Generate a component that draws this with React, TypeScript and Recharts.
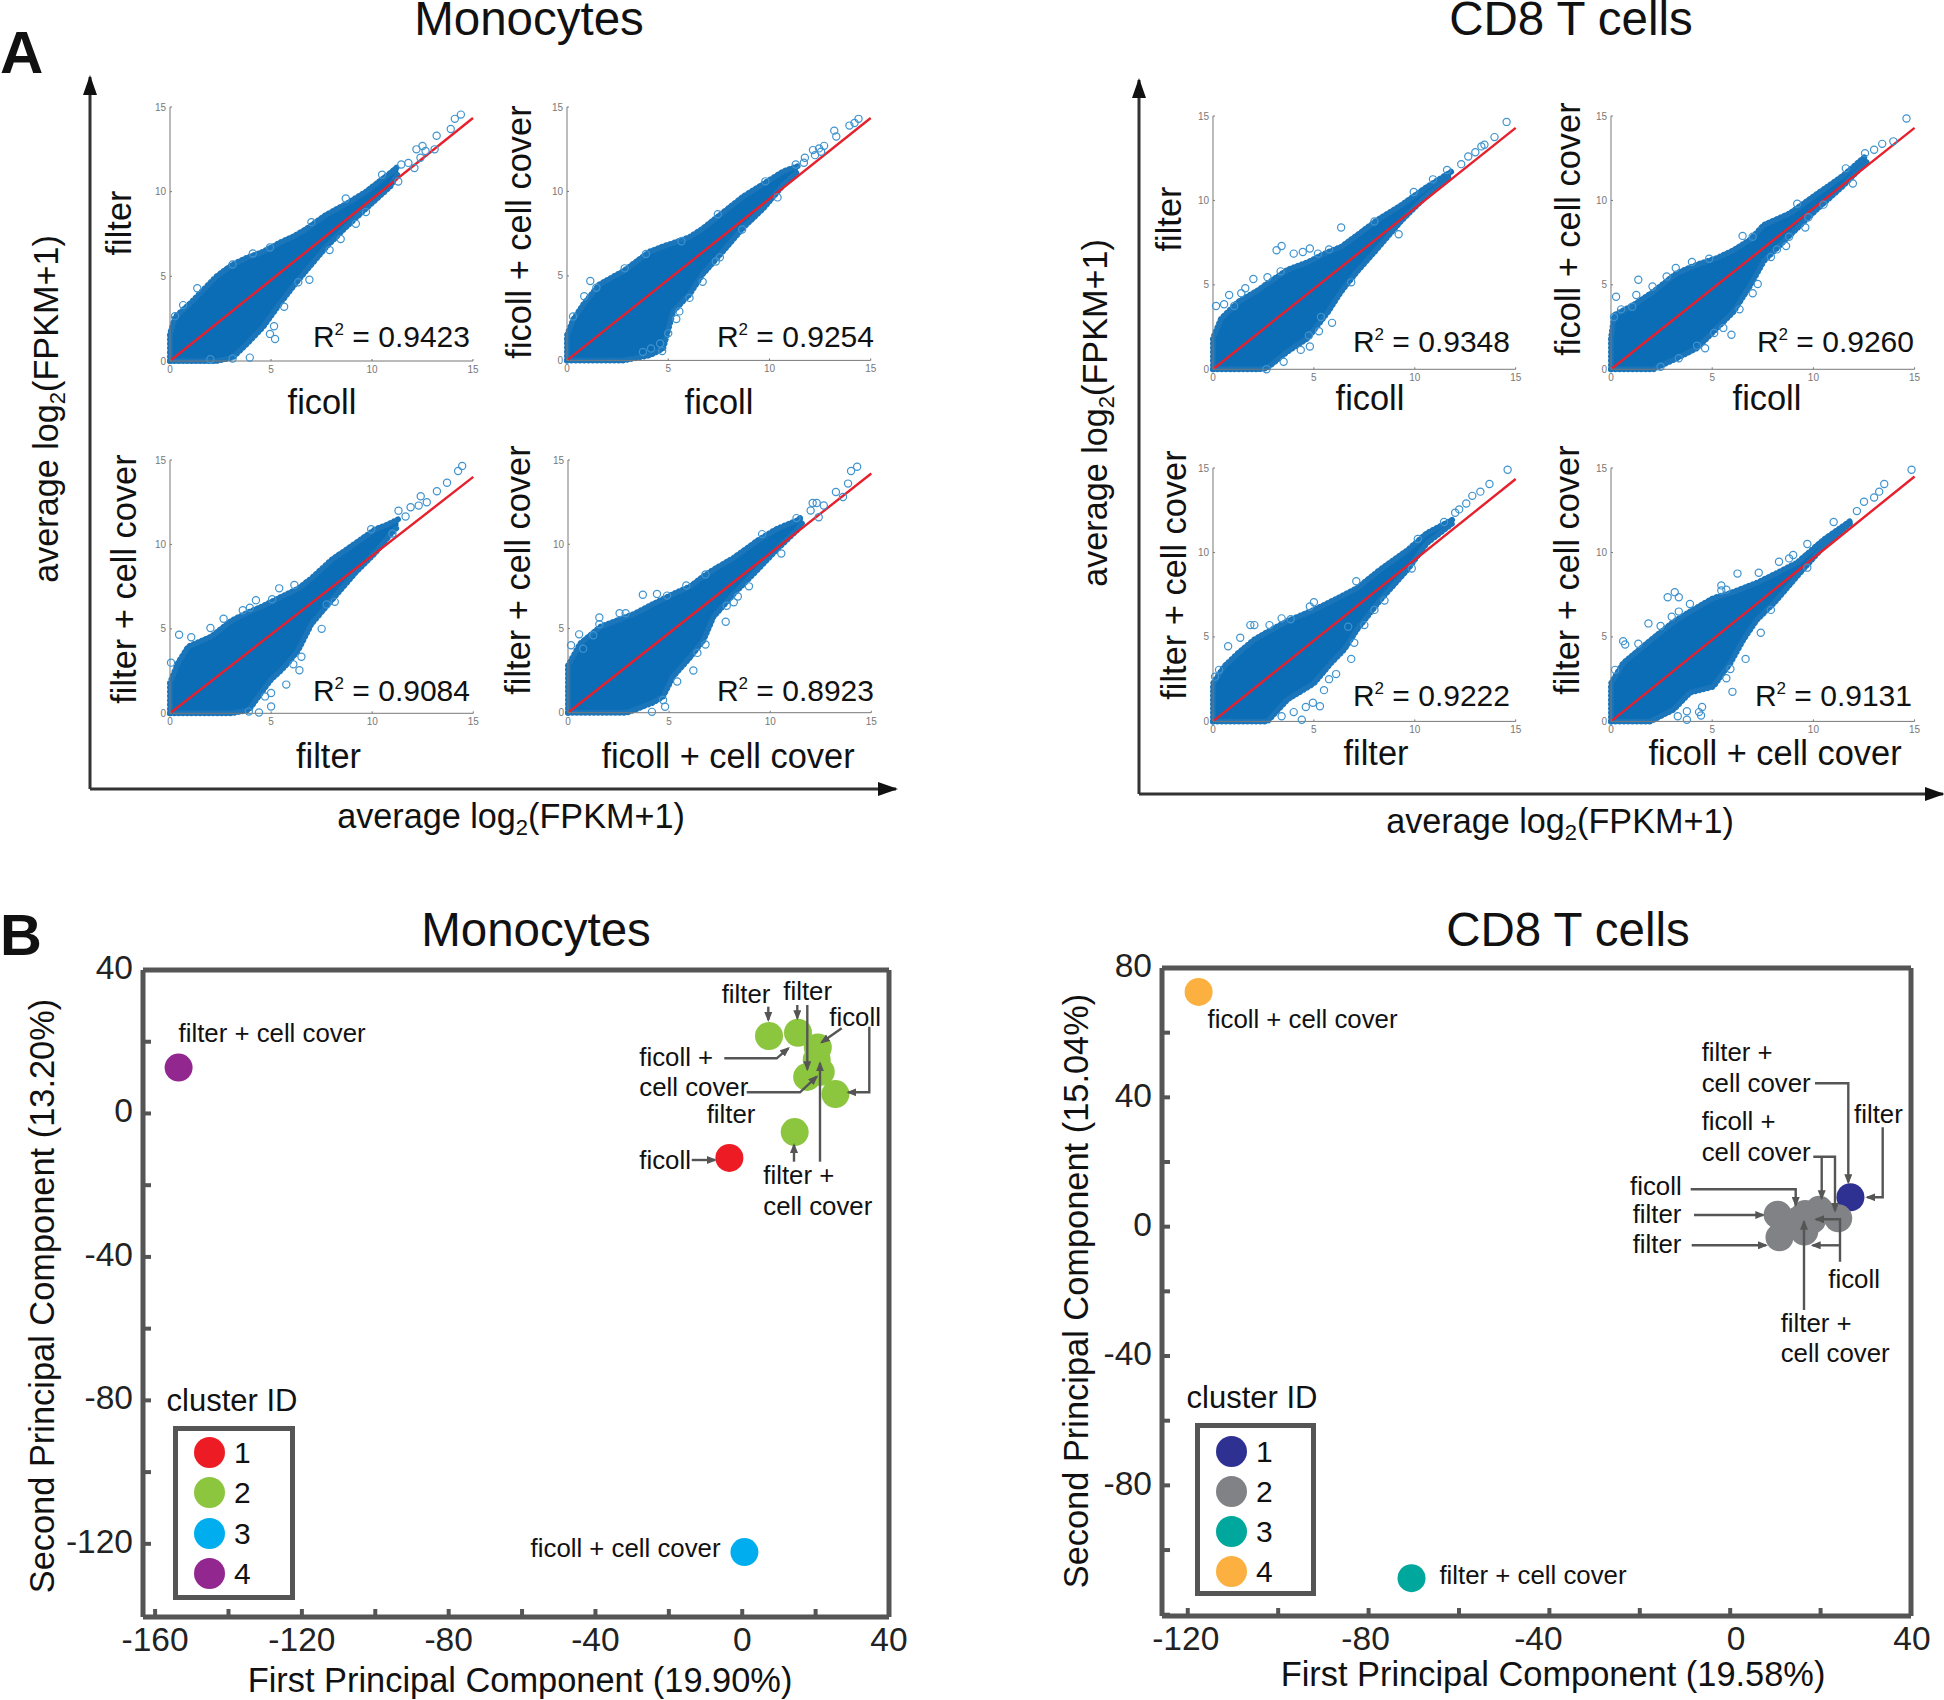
import React from "react";
import { Area, ComposedChart, Legend, Line, Scatter, ScatterChart, XAxis, YAxis } from "recharts";

const FONT = '"Liberation Sans", Arial, sans-serif';

// ---------- Panel A: envelope of the dense cloud and readable outliers ----------
const mtlX = [0, 0.25, 1, 1.65, 2.3, 3.1, 3.8, 4.6, 5.45, 6.1, 6.75, 7.75, 8.75, 9.7, 10.9, 11.3];
const mtlHigh = [1.6, 2.6, 3.4, 4.2, 5, 5.7, 6.1, 6.45, 7, 7.35, 7.8, 8.65, 9.3, 10, 11.1, 11.5];
const mtlLow = [0, 0, 0, 0, 0, 0.2, 1, 2, 3.4, 4.4, 5.35, 6.75, 7.95, 9, 10.3, 11.1];
const mtlOut = [[14.4,14.55],[14.1,14.3],[13.9,13.7],[13.2,13.3],[13.1,12.5],[12.65,12.4],[12.5,12.7],[12.2,12.5],[12.4,12],[12.1,11.4],[11.8,11.7],[11.45,11.6],[11.3,10.6],[10.5,11],[9.7,8.8],[9.2,8.1],[8.45,7.2],[7.9,6.55],[7,8.2],[6.9,4.8],[6.35,4.65],[4.95,6.7],[3.1,5.7],[1.35,4.3],[0.25,2.65],[0.65,3.3],[5.65,3.2],[5.15,2.05],[4.95,1.6],[5.2,1.3],[3.95,0.2],[3.1,0.15],[2,0.1],[8.7,9.6],[4.1,6.35]];

const mtrX = [0, 0.3, 0.8, 1.6, 2.8, 4.1, 4.75, 5.25, 6.05, 6.7, 7.7, 8.7, 9.7, 10.7, 11.4];
const mtrHigh = [1.5, 2.4, 3.3, 4.5, 5.3, 6.45, 6.75, 6.95, 7.3, 7.8, 8.75, 9.7, 10.45, 11.2, 11.5];
const mtrLow = [0, 0, 0, 0, 0, 0.3, 0.7, 2.9, 3.9, 5.1, 6.45, 7.85, 9, 10.4, 11.2];
const mtrOut = [[14.4,14.3],[14.2,14.05],[13.95,13.9],[13.2,13.6],[13.3,13.25],[12.7,12.7],[12.45,12.55],[12.15,12.45],[12.25,12.15],[12.55,12.35],[11.75,12],[11.7,11.7],[11.3,11.6],[10.4,9.65],[9.8,10.6],[7.45,8.65],[8.65,7.75],[7.55,6.1],[7.35,5.85],[6.7,4.65],[5.65,7.05],[3.9,6.3],[2.85,5.45],[1.15,4.7],[0.85,3.8],[1.45,4.3],[0.3,2.6],[6.05,3.7],[5.55,2.9],[5.4,2.45],[5,1.6],[4.7,0.55],[4.15,0.7],[3.75,0.5],[4.6,1]];

const mblX = [0, 0.4, 0.9, 2.05, 3.05, 3.9, 4.5, 5, 5.5, 5.85, 6.35, 7, 8, 9.15, 10.15, 10.8, 11.3];
const mblHigh = [1.8, 3, 3.95, 4.55, 5.5, 6, 6.3, 6.6, 6.9, 7.1, 7.4, 8, 9.1, 10.05, 10.9, 11.2, 11.5];
const mblLow = [0, 0, 0, 0, 0, 0.2, 1.2, 2, 2.55, 3, 3.75, 5.3, 6.7, 8.3, 9.5, 10.45, 11.1];
const mblOut = [[14.45,14.65],[14.25,14.35],[13.7,13.65],[13.2,13.15],[12.7,12.5],[12.4,12.85],[12.3,12.3],[11.9,12.2],[11.65,11.65],[11.3,12],[11,10.65],[9.95,10.9],[8.15,6.6],[7.75,6.45],[7.5,5],[6.15,7.6],[5.4,7.4],[5.05,6.75],[4.25,6.7],[3.95,6.25],[3.6,6.1],[2.65,5.6],[2,5.05],[0.45,4.65],[1.05,4.5],[0.05,3],[6.4,2.55],[6.1,2.9],[5.75,1.7],[5,1.2],[5,0.4],[4.4,0.05],[3.9,0.1],[4.7,1],[6.5,3.35]];

const mbrX = [0, 0.6, 1.6, 2.9, 3.25, 4.2, 4.7, 5.2, 6.05, 6.7, 7.2, 8.2, 9.35, 10.3, 11.3, 11.6];
const mbrHigh = [2.8, 4.1, 5.1, 5.7, 5.85, 6.45, 6.75, 7.05, 7.5, 8.1, 8.5, 9.2, 10.2, 10.9, 11.4, 11.65];
const mbrLow = [0, 0, 0, 0, 0.15, 0.6, 0.95, 2.15, 3.3, 4.3, 5.7, 7.05, 8.45, 9.65, 10.8, 11.3];
const mbrOut = [[14.3,14.6],[14,14.35],[13.85,13.6],[13.25,13.1],[13.6,12.8],[12.65,12.3],[12.3,12.45],[12.1,12.45],[12,12],[12.4,11.6],[11.3,11.55],[9.6,10.6],[10.55,9.45],[8.95,7.5],[8.4,6.9],[8.2,6.55],[7.85,6.35],[7.8,5.4],[6.8,8.2],[5.85,7.55],[4.9,6.95],[4.4,7.05],[3.7,7],[2.85,5.9],[2.55,5.9],[1.55,5.65],[1.55,5.25],[1.25,4.6],[0.55,4.65],[0.15,4],[0.75,3.8],[6.4,3.55],[6.8,4.05],[6.2,2.5],[5.4,1.85],[4.8,0.35],[4.15,0.05],[4.7,0.75]];

const ctlX = [0, 0.4, 1.25, 2.25, 2.65, 3.7, 4.7, 5.7, 6.35, 7.15, 8.15, 9.3, 10.6, 11.8];
const ctlHigh = [1.85, 3, 4, 4.7, 5.05, 5.9, 6.35, 6.95, 7.25, 7.95, 8.85, 9.7, 10.8, 11.7];
const ctlLow = [0, 0, 0, 0, 0.05, 1.05, 1.85, 3.4, 4.6, 5.8, 7.15, 8.75, 10.3, 11.4];
const ctlOut = [[14.55,14.65],[13.95,13.75],[13.45,13.3],[13.3,13.2],[13,12.85],[12.65,12.6],[12.3,12.15],[11.6,11.8],[10.9,11.25],[9.95,10.5],[9.2,8],[8,8.75],[6.35,8.4],[3.4,7.3],[3.15,7.05],[4,6.85],[4.45,6.95],[4.8,7.15],[5.2,6.85],[5.75,7.1],[3.35,5.8],[2.7,5.45],[2,5.35],[1.6,4.8],[1.4,4.5],[0.8,4.4],[0.15,3.75],[0.55,3.85],[1.05,3.75],[6.85,5.15],[5.9,2.75],[5.25,2.25],[4.75,2],[4.8,1.35],[4.35,1.15],[3.5,0.45],[2.65,0],[5.35,3.1]];

const ctrX = [0, 0.15, 1.1, 2.1, 3.25, 4.25, 5.25, 6.05, 6.9, 7.55, 8.85, 10.2, 11.5, 12.65];
const ctrHigh = [1.85, 3.2, 3.8, 4.6, 5.7, 6.2, 6.6, 7.05, 7.7, 8.55, 9.25, 10.4, 11.5, 12.7];
const ctrLow = [0, 0, 0, 0, 0.65, 1.25, 2.45, 3.4, 5, 6.4, 7.95, 9.5, 10.9, 12.3];
const ctrOut = [[14.6,14.85],[13.95,13.5],[13.4,13.35],[13,13],[12.55,12.8],[11.95,11],[11.6,11.9],[10.5,9.75],[9.75,9],[9.6,8.4],[9.2,9.8],[8.8,7.85],[8.65,7.3],[8.2,7.1],[7.9,6.65],[7,7.85],[6.5,7.9],[7.25,5.05],[7,4.5],[6.35,3.55],[5.55,2.45],[5.95,2.05],[5.1,2.15],[4.65,1.25],[4.25,1.4],[4,6.35],[3.2,6],[2.75,5.5],[1.35,5.3],[2.05,4.9],[1.25,4.4],[0.25,4.3],[0.5,3.55],[1.05,3.7],[0.15,3.1],[4.85,6.55],[3.35,0.65],[2.45,0.15]];

const cblX = [0, 0.55, 1.25, 2.05, 2.7, 3.7, 5, 5.85, 6.5, 7.15, 8.3, 9.65, 10.6, 11.95];
const cblHigh = [2.25, 3.25, 4.05, 4.85, 5.3, 5.95, 6.6, 7.1, 7.5, 7.9, 9, 10.15, 11.15, 12];
const cblLow = [0, 0, 0, 0, 0, 1.3, 2.25, 3.45, 4.25, 5.45, 7.2, 9, 10.55, 11.8];
const cblOut = [[14.6,14.9],[13.7,14.05],[13.25,13.6],[12.85,13.35],[12.55,12.9],[12.2,12.55],[12,12.35],[11.45,11.8],[10.15,10.8],[9.85,9.05],[8.5,7.15],[8,6.6],[7.1,8.3],[7.5,5.7],[7,4.65],[6.85,3.7],[6.1,2.8],[5.75,2.5],[5.5,1.85],[5.3,0.9],[4.95,1.1],[4.6,0.85],[4,0.55],[4.4,0.1],[3.4,6.1],[3.85,6.05],[5,7.05],[4.8,6.8],[2.05,5.7],[1.85,5.7],[2.8,5.7],[1.35,4.95],[0.75,4.45],[0.3,3.05],[0.1,2.65],[6.7,5.6],[3.4,0.3]];

const cbrX = [0, 0.6, 1.6, 1.95, 3.1, 3.9, 5.05, 5.9, 6.55, 7.2, 8.05, 9.2, 10.5, 11.8];
const cbrHigh = [2.25, 3.45, 4.45, 4.8, 5.9, 6.5, 7.3, 7.6, 7.9, 8.2, 8.7, 9.4, 10.75, 11.85];
const cbrLow = [0, 0, 0, 0, 0.7, 1.7, 2.05, 3.45, 4.85, 6, 7, 8.6, 10.35, 11.7];
const cbrOut = [[14.85,14.9],[13.5,14.05],[13.25,13.6],[13,13.25],[12.5,13],[12.15,12.45],[11,11.8],[9.7,10.5],[9.7,9.1],[8.3,9.45],[9,9.85],[8.8,9.65],[7.9,6.6],[7.3,8.8],[6.25,8.75],[5.45,8.05],[5.7,7.8],[5.45,7.75],[3.15,7.65],[2.8,7.35],[3.35,7.35],[3.9,6.95],[3.35,6.5],[3,6.2],[1.85,5.8],[2.45,5.65],[0.6,4.75],[0.7,4.55],[1.35,4.6],[0.2,3.05],[7.4,5.25],[6.65,3.7],[5.9,3.1],[6,1.75],[5.7,2.55],[4.5,0.85],[4.35,0.55],[4.45,0.35],[3.75,0.6],[3.75,0.1],[3.3,0.3]];

const scatterTicks = [0, 5, 10, 15];

const panels = [
  { id: "mtl", box: [170, 473, 107, 361], xs: mtlX, high: mtlHigh, low: mtlLow, out: mtlOut, fitEnd: 14.35 },
  { id: "mtr", box: [567.3, 871, 107.3, 360.7], xs: mtrX, high: mtrHigh, low: mtrLow, out: mtrOut, fitEnd: 14.35 },
  { id: "mbl", box: [170, 473.3, 460, 713.3], xs: mblX, high: mblHigh, low: mblLow, out: mblOut, fitEnd: 14 },
  { id: "mbr", box: [567.7, 871, 460, 712.7], xs: mbrX, high: mbrHigh, low: mbrLow, out: mbrOut, fitEnd: 14.2 },
  { id: "ctl", box: [1213.3, 1516, 116, 369.3], xs: ctlX, high: ctlHigh, low: ctlLow, out: ctlOut, fitEnd: 14.3 },
  { id: "ctr", box: [1610.7, 1914.3, 116, 369.3], xs: ctrX, high: ctrHigh, low: ctrLow, out: ctrOut, fitEnd: 14.3 },
  { id: "cbl", box: [1213.3, 1516, 468.3, 721.7], xs: cblX, high: cblHigh, low: cblLow, out: cblOut, fitEnd: 14.35 },
  { id: "cbr", box: [1610.7, 1914.3, 468.3, 721.7], xs: cbrX, high: cbrHigh, low: cbrLow, out: cbrOut, fitEnd: 14.5 },
];

// ---------- Panel B: PCA clusters ----------
const monoClusterIds = ["1", "2", "3", "4"];
const monoClusterColors = ["#ed1c24", "#8cc63f", "#00aeef", "#92278f"];
const monoClusterPoints = [
  [[-3.5, -12.4]],
  [[7.3, 21.6], [15.2, 22.5], [20.6, 18.4], [20.3, 14.9], [17.7, 10.2], [21.4, 11.6], [25.4, 5.4], [14.3, -5.2]],
  [[0.6, -122.3]],
  [[-153.6, 12.8]],
];
const cd8ClusterIds = ["1", "2", "3", "4"];
const cd8ClusterColors = ["#2e3192", "#808285", "#00a79d", "#fbb040"];
const cd8ClusterPoints = [
  [[26.6, 9.1]],
  [[10.5, 3.7], [10.9, -3.3], [16.6, 3.9], [16.4, -1.5], [19.7, 5.2], [23.9, 2.6], [15.2, 2.1], [18.1, 2.1]],
  [[-70.5, -108.7]],
  [[-117.6, 72.6]],
];
const monoXTicks = [-160, -140, -120, -100, -80, -60, -40, -20, 0, 20, 40];
const monoYTicks = [-120, -100, -80, -60, -40, -20, 0, 20, 40];
const monoXLabels = [-160, -120, -80, -40, 0, 40];
const monoYLabels = [-120, -80, -40, 0, 40];
const cd8XTicks = [-120, -100, -80, -60, -40, -20, 0, 20, 40];
const cd8YTicks = [-120, -100, -80, -60, -40, -20, 0, 20, 40, 60, 80];
const cd8XLabels = [-120, -80, -40, 0, 40];
const cd8YLabels = [-80, -40, 0, 40, 80];
// the reference's CD8 x labels sit a little off their ticks
const cd8XLabelNudge: Record<number, number> = { [-120]: -2, [-80]: -3, [-40]: -11, 0: 6, 40: 1 };

const toPts = (rows: number[][]) => rows.map(([x, y]) => ({ x, y }));

const Ring = (p: any) => (
  <circle cx={p.cx} cy={p.cy} r={3.6} fill="none" stroke="#3f93cf" strokeWidth={1.2} />
);

function CorrPanel({ panel }: any) {
  const [x0, x1, yTop, yBot] = panel.box;
  const L = 30, T = 10, R = 12, B = 22;
  const rows = [
    { x: 0, band: [0, 0] },
    ...panel.xs.map((x: number, i: number) => ({ x, band: [panel.low[i], panel.high[i]] })),
  ];
  const fit = [{ x: 0, y: 0 }, { x: 15, y: panel.fitEnd }];
  const tick = { fontSize: 10, fill: "#777", fontFamily: FONT };
  return (
    <div style={{ position: "absolute", left: x0 - L, top: yTop - T }}>
      <ComposedChart
        width={x1 - x0 + L + R}
        height={yBot - yTop + T + B}
        data={rows}
        margin={{ top: T, right: R, bottom: 0, left: 0 }}
      >
        <XAxis dataKey="x" type="number" domain={[0, 15]} ticks={scatterTicks} interval={0} height={B}
          tick={tick} tickSize={-2} tickMargin={7} axisLine={{ stroke: "#777", strokeWidth: 1 }} tickLine={{ stroke: "#777" }} />
        <YAxis dataKey="y" type="number" domain={[0, 15]} ticks={scatterTicks} interval={0} width={L}
          tick={tick} tickSize={-2} tickMargin={6} axisLine={{ stroke: "#777", strokeWidth: 1 }} tickLine={{ stroke: "#777" }} />
        <Area dataKey="band" type="linear" fill="#0b6db5" fillOpacity={1} stroke="#1a75ba" strokeWidth={6}
          strokeDasharray="0.1 4.2" strokeLinecap="round" dot={false} activeDot={false} isAnimationActive={false} />
        <Scatter data={toPts(panel.out)} dataKey="y" shape={Ring} isAnimationActive={false} />
        <Line data={fit} dataKey="y" type="linear" stroke="#e6202c" strokeWidth={2.4} dot={false} activeDot={false} isAnimationActive={false} />
      </ComposedChart>
    </div>
  );
}

const ClusterDot = (r: number) => (p: any) => <circle cx={p.cx} cy={p.cy} r={r} fill={p.fill} />;

function PcaPanel(props: any) {
  const { box, xDomain, yDomain, xTicks, yTicks, xLabels, yLabels, ids, colors, points, legend, yDy, xNudge } = props;
  const [x0, x1, yTop, yBot] = box;
  const L = 80, T = 30, R = 30, B = 52;
  const W = x1 - x0 + L + R;
  const H = yBot - yTop + T + B;
  const tick = { fontSize: 33.5, fill: "#222", fontFamily: FONT };
  const line = { stroke: "#555", strokeWidth: 5 };
  const tl = { stroke: "#555", strokeWidth: 4 };
  const fy = (v: number) => (yLabels.includes(v) ? String(v) : "");
  const xTick = (p: any) => {
    const v = p.payload.value;
    if (!xLabels.includes(v)) return <g />;
    const dx = xNudge ? xNudge[v] || 0 : 0;
    return (
      <text x={p.x + dx} y={p.y} dy="0.71em" textAnchor="middle" fontSize={33.5} fill="#222" fontFamily={FONT}>{v}</text>
    );
  };
  return (
    <div style={{ position: "absolute", left: x0 - L, top: yTop - T }}>
      <ScatterChart width={W} height={H} margin={{ top: T - 1, right: R - 1, bottom: 0, left: 0 }}>
        <XAxis xAxisId="b" dataKey="x" type="number" domain={xDomain} ticks={xTicks} interval={0} height={B}
          tick={xTick} tickSize={-8} tickMargin={18} axisLine={line} tickLine={tl} />
        <XAxis xAxisId="t" orientation="top" dataKey="x" type="number" domain={xDomain} ticks={xTicks} interval={0} height={1}
          tick={false} tickSize={-8} axisLine={line} tickLine={tl} />
        <YAxis yAxisId="l" dataKey="y" type="number" domain={yDomain} ticks={yTicks} interval={0} width={L}
          tick={{ ...tick, dy: yDy }} tickFormatter={fy} tickSize={-8} tickMargin={18} axisLine={line} tickLine={tl} />
        <YAxis yAxisId="r" orientation="right" dataKey="y" type="number" domain={yDomain} ticks={yTicks} interval={0} width={1}
          tick={false} tickSize={-8} axisLine={line} tickLine={tl} />
        {ids.map((id: string, i: number) => (
          <Scatter key={id} name={id} xAxisId="b" yAxisId="l" data={toPts(points[i])} fill={colors[i]}
            shape={ClusterDot(14)} isAnimationActive={false} />
        ))}
        <Legend layout="vertical" align="center" verticalAlign="middle"
          wrapperStyle={{ left: legend.left - x0 + L, top: legend.top - yTop + T, width: legend.w, height: legend.h, margin: 0 }}
          content={({ payload }: any) => (
            <div style={{ position: "relative", boxSizing: "border-box", width: legend.w, height: legend.h, border: "5px solid #555", background: "#fff", fontFamily: FONT, fontSize: 30, color: "#111" }}>
              {(payload || []).map((e: any, i: number) => (
                <React.Fragment key={e.value}>
                  <div style={{ position: "absolute", left: 16, top: legend.dotTop + i * legend.step, width: 31, height: 31, borderRadius: "50%", background: colors[i] }} />
                  <div style={{ position: "absolute", left: 56, top: legend.dotTop - 2 + i * legend.step, lineHeight: "36px" }}>{e.value}</div>
                </React.Fragment>
              ))}
            </div>
          )}
        />
      </ScatterChart>
    </div>
  );
}

// ---------- Overlay text and arrows ----------
const rotated: [string, number, number][] = [
  ["filter", 131, 223], ["ficoll + cell cover", 531, 232], ["filter + cell cover", 135.6, 579], ["filter + cell cover", 530, 570],
  ["filter", 1181, 219], ["ficoll + cell cover", 1580, 229], ["filter + cell cover", 1186, 575], ["filter + cell cover", 1579, 570],
  ["Second Principal Component (13.20%)", 54, 1296], ["Second Principal Component (15.04%)", 1088, 1291],
];
const centered: [string, number, number][] = [
  ["ficoll", 322, 414], ["ficoll", 719, 414], ["filter", 328.5, 768], ["ficoll + cell cover", 728, 768],
  ["ficoll", 1370, 410], ["ficoll", 1767, 410], ["filter", 1376, 765], ["ficoll + cell cover", 1775, 765],
  ["First Principal Component (19.90%)", 520, 1692], ["First Principal Component (19.58%)", 1553, 1686],
];
const clusterHeads: [string, number, number][] = [["cluster ID", 232, 1411], ["cluster ID", 1252, 1408]];
const titles: [string, number, number][] = [
  ["Monocytes", 529, 35], ["CD8 T cells", 1571, 35], ["Monocytes", 536, 946], ["CD8 T cells", 1568, 946],
];
const rSquared: [string, number, number][] = [
  ["0.9423", 470, 347], ["0.9254", 874, 347], ["0.9084", 470, 701], ["0.8923", 874, 701],
  ["0.9348", 1510, 352], ["0.9260", 1914, 352], ["0.9222", 1510, 706], ["0.9131", 1912, 706],
];
const annotations: [string, number, number][] = [
  ["filter", 721.7, 1002.7], ["filter", 783.3, 1000.3], ["ficoll", 829.3, 1026], ["ficoll +", 639.3, 1066], ["cell cover", 639.3, 1096],
  ["filter", 706.7, 1122.7], ["ficoll", 639.3, 1169.3], ["filter +", 763.3, 1184.3], ["cell cover", 763.3, 1215],
  ["filter + cell cover", 178.5, 1042], ["ficoll + cell cover", 530.6, 1557],
  ["filter +", 1701.7, 1061], ["cell cover", 1701.7, 1091.7], ["ficoll +", 1701.7, 1130.3], ["cell cover", 1701.7, 1161],
  ["filter", 1854, 1122.7], ["ficoll", 1630, 1195], ["filter", 1632.7, 1223.3], ["filter", 1632.7, 1252.7], ["ficoll", 1828.3, 1287.7],
  ["filter +", 1780.7, 1331.7], ["cell cover", 1780.7, 1362], ["ficoll + cell cover", 1207.6, 1027.6], ["filter + cell cover", 1439.4, 1584.2],
];
const arrows: number[][] = [
  [768.3,1006.7,768.3,1020],[797.3,1005,797.3,1018.3],[807.3,1005,807.3,1069.3],[841.7,1028.3,821.7,1042.3],
  [869.3,1026.7,869.3,1092.3,848.3,1092.3],[724.3,1058.3,776.7,1058.3,788.3,1048.3],[746.7,1092.3,800,1092.3,816.7,1076.7],
  [820,1161.7,820,1063.3],[794,1161.7,794,1145],[691.7,1160,715,1160],
  [1815,1083.3,1848.3,1083.3,1848.3,1182.3],[1882.7,1127.3,1882.7,1197.3,1867.3,1197.3],[1813.3,1156.7,1835,1156.7,1835,1210.7],
  [1821.7,1156.7,1821.7,1198.3],[1690.7,1189.3,1795.7,1189.3,1795.7,1205],[1694,1215,1763.3,1215],[1691.7,1245.3,1766,1245.3],
  [1840,1261.7,1840,1219.3,1816,1219.3],[1840,1245.3,1812.7,1245.3],[1804,1310,1804,1221.7],
];

const LogLabel = ({ x, y, rotate }: any) => (
  <text x={x} y={y} fontSize={34.2} textAnchor="middle" fill="#111" transform={rotate ? `rotate(-90 ${x} ${y})` : undefined}>
    average log<tspan fontSize={22} dy={7}>2</tspan><tspan dy={-7}>(FPKM+1)</tspan>
  </text>
);

function Overlay() {
  return (
    <svg width={1944} height={1700} style={{ position: "absolute", left: 0, top: 0, pointerEvents: "none", fontFamily: FONT }}>
      <defs>
        <marker id="ah" markerWidth="10" markerHeight="8" refX="8" refY="4" orient="auto" markerUnits="userSpaceOnUse">
          <path d="M0,0 L10,4 L0,8 Z" fill="#555" />
        </marker>
        <marker id="big" markerWidth="20" markerHeight="14" refX="18" refY="7" orient="auto" markerUnits="userSpaceOnUse">
          <path d="M0,0 L20,7 L0,14 Z" fill="#111" />
        </marker>
      </defs>
      <text x={0} y={73} fontSize={60} fontWeight="bold" fill="#111">A</text>
      <text x={0} y={955} fontSize={58} fontWeight="bold" fill="#111">B</text>
      {titles.map(([s, x, y], i) => (
        <text key={i} x={x} y={y} fontSize={47.5} textAnchor="middle" fill="#111">{s}</text>
      ))}
      <polyline points="90,789 90,77" fill="none" stroke="#333" strokeWidth={3} markerEnd="url(#big)" />
      <polyline points="90,789 896,789" fill="none" stroke="#333" strokeWidth={3} markerEnd="url(#big)" />
      <polyline points="1139,794 1139,80" fill="none" stroke="#333" strokeWidth={3} markerEnd="url(#big)" />
      <polyline points="1139,794 1943,794" fill="none" stroke="#333" strokeWidth={3} markerEnd="url(#big)" />
      <LogLabel x={58} y={409} rotate />
      <LogLabel x={511} y={828} />
      <LogLabel x={1107} y={413} rotate />
      <LogLabel x={1560} y={833} />
      {rotated.map(([s, x, y], i) => (
        <text key={i} x={x} y={y} fontSize={34.4} textAnchor="middle" fill="#111" transform={`rotate(-90 ${x} ${y})`}>{s}</text>
      ))}
      {centered.map(([s, x, y], i) => (
        <text key={i} x={x} y={y} fontSize={34.4} textAnchor="middle" fill="#111">{s}</text>
      ))}
      {clusterHeads.map(([s, x, y], i) => (
        <text key={i} x={x} y={y} fontSize={31} textAnchor="middle" fill="#111">{s}</text>
      ))}
      {rSquared.map(([s, x, y], i) => (
        <text key={i} x={x} y={y} fontSize={30} textAnchor="end" fill="#111">
          R<tspan fontSize={17} dy={-12}>2</tspan><tspan dy={12}> = {s}</tspan>
        </text>
      ))}
      {annotations.map(([s, x, y], i) => (
        <text key={i} x={x} y={y} fontSize={25.8} fill="#111">{s}</text>
      ))}
      {arrows.map((a, i) => (
        <polyline key={i} points={a.join(" ")} fill="none" stroke="#555" strokeWidth={2.4} markerEnd="url(#ah)" />
      ))}
    </svg>
  );
}

export default function App() {
  return (
    <div style={{ position: "absolute", left: 0, top: 0, width: 1944, height: 1700, background: "#fff", overflow: "hidden" }}>
      {panels.map((p) => <CorrPanel key={p.id} panel={p} />)}
      <PcaPanel box={[143, 889, 970, 1617]} xDomain={[-163.3, 40]} yDomain={[-140.4, 40]} yDy={-3}
        xTicks={monoXTicks} yTicks={monoYTicks} xLabels={monoXLabels} yLabels={monoYLabels}
        ids={monoClusterIds} colors={monoClusterColors} points={monoClusterPoints}
        legend={{ left: 173, top: 1426, w: 122, h: 174, step: 40.3, dotTop: 6 }} />
      <PcaPanel box={[1162, 1911, 968, 1616]} xDomain={[-125.7, 40]} yDomain={[-120.4, 80]} yDy={-2.5} xNudge={cd8XLabelNudge}
        xTicks={cd8XTicks} yTicks={cd8YTicks} xLabels={cd8XLabels} yLabels={cd8YLabels}
        ids={cd8ClusterIds} colors={cd8ClusterColors} points={cd8ClusterPoints}
        legend={{ left: 1195, top: 1423, w: 121, h: 173, step: 40.3, dotTop: 7.5 }} />
      <Overlay />
    </div>
  );
}
